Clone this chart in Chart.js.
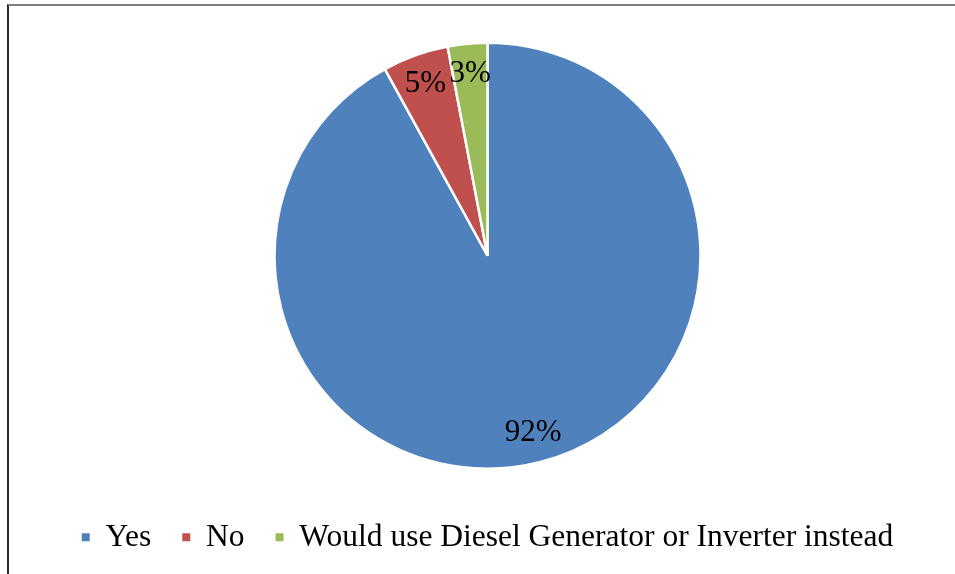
<!DOCTYPE html>
<html>
<head>
<meta charset="utf-8">
<script src="https://cdn.jsdelivr.net/npm/chart.js@4"></script>
<style>
  html, body { margin: 0; padding: 0; background: #fff; }
  #wrap { position: relative; width: 955px; height: 574px; overflow: hidden; }
  #frame {
    position: absolute; left: 7px; top: 4px; width: 960px; height: 580px;
    border-top: 2px solid #7f7f7f; border-left: 2px solid #2b2b2b;
  }
  canvas { position: absolute; left: 0; top: 0; }
</style>
</head>
<body>
<div id="wrap">
  <div id="frame"></div>
  <canvas id="pie-chart" width="955" height="574"></canvas>
</div>
<script>
// Willingness answers
const labels = ['Yes', 'No', 'Would use Diesel Generator or Inverter instead'];
const shares = [92, 5, 3];
const colours = ['#4F81BD', '#C0504D', '#9BBB59'];

// writes "nn%" inside each slice, a bit in from the rim
const sliceLabels = {
  id: 'sliceLabels',
  afterDatasetsDraw(chart) {
    const ctx = chart.ctx;
    const arcs = chart.getDatasetMeta(0).data;
    ctx.save();
    ctx.font = '31px "Liberation Serif", "Times New Roman", serif';
    ctx.fillStyle = '#000';
    ctx.textAlign = 'center';
    ctx.textBaseline = 'middle';
    arcs.forEach((arc, i) => {
      const mid = (arc.startAngle + arc.endAngle) / 2;
      const r = arc.outerRadius * 0.86;
      ctx.fillText(shares[i] + '%', arc.x + Math.cos(mid) * r, arc.y + Math.sin(mid) * r);
    });
    ctx.restore();
  }
};

const ctx_pie = document.getElementById('pie-chart').getContext('2d');
const pie_chart = new Chart(ctx_pie, {
  type: 'pie',
  data: {
    labels: labels,
    datasets: [{
      data: shares,
      backgroundColor: colours,
      borderColor: '#fff',
      borderWidth: 2.5,
      radius: 213,
    }]
  },
  options: {
    responsive: false,
    animation: false,
    layout: { padding: { left: 20, right: 0, top: 21, bottom: 11 } },
    plugins: {
      tooltip: { enabled: false },
      legend: {
        display: true,
        position: 'bottom',
        labels: {
          boxWidth: 8,
          boxHeight: 8,
          padding: 31,
          color: '#000',
          font: { family: '"Liberation Serif", "Times New Roman", serif', size: 31.5 },
          // plain filled squares, without the white slice border
          generateLabels: (chart) =>
            Chart.overrides.pie.plugins.legend.labels.generateLabels(chart)
              .map(item => ({ ...item, lineWidth: 0 })),
        }
      }
    }
  },
  plugins: [sliceLabels]
});
</script>
</body>
</html>
